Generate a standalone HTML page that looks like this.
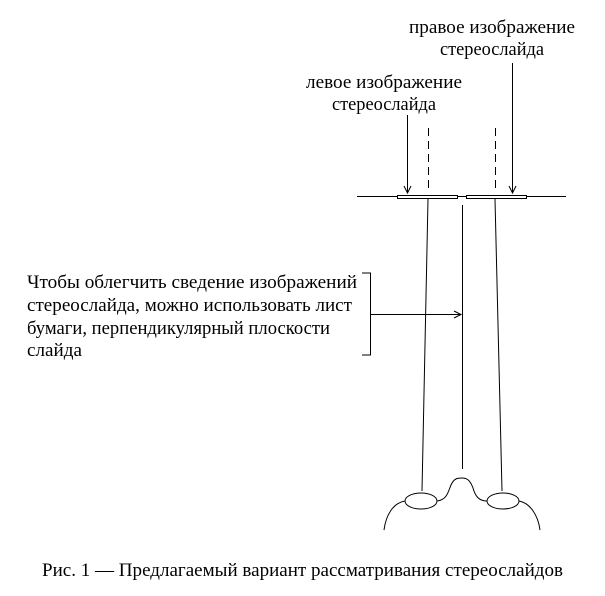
<!DOCTYPE html>
<html><head><meta charset="utf-8"><style>
body{margin:0;width:605px;height:596px;background:#fff;overflow:hidden}
svg{position:absolute;left:0;top:0}
text{font-family:"Liberation Serif","DejaVu Serif",serif;font-size:19px;fill:#000}
</style></head><body>
<svg width="605" height="596" viewBox="0 0 605 596">
<g stroke="#000" stroke-width="1" fill="none">
<line x1="357" y1="196.5" x2="566" y2="196.5"/>
<rect x="397.5" y="195.5" width="60" height="3" fill="#fff"/>
<rect x="466.5" y="195.5" width="60" height="3" fill="#fff"/>
<line x1="407.5" y1="115" x2="407.5" y2="192"/>
<path d="M404 186 L407.5 193 L411 186"/>
<line x1="512.5" y1="63" x2="512.5" y2="192"/>
<path d="M509 186 L512.5 193 L516 186"/>
<line x1="428.5" y1="128" x2="428.5" y2="190" stroke-dasharray="8,5"/>
<line x1="495.5" y1="128" x2="495.5" y2="190" stroke-dasharray="8,5"/>
<line x1="428" y1="199" x2="422" y2="491"/>
<line x1="495" y1="199" x2="502" y2="491"/>
<line x1="462.5" y1="205" x2="462.5" y2="469"/>
<polyline points="362,273 370.5,273 370.5,355 362,355"/>
<line x1="370" y1="314.5" x2="460" y2="314.5"/>
<path d="M454 311 L461 314.5 L454 318"/>
<ellipse cx="421" cy="501" rx="16" ry="8"/>
<ellipse cx="503" cy="501" rx="16" ry="8"/>
<path d="M437 501 C447 500 448 492 451 485 C454 478 458 478 462 478 C467 478 470 480 473 488 C475 495 478 501 487 501"/>
<path d="M405 501 C393 503 386 515 384 530"/>
<path d="M519 501 C530 503 538 515 540 530"/>
</g>
<text x="409" y="33" textLength="166" lengthAdjust="spacingAndGlyphs">правое изображение</text>
<text x="440" y="55" textLength="104" lengthAdjust="spacingAndGlyphs">стереослайда</text>
<text x="306" y="88" textLength="156" lengthAdjust="spacingAndGlyphs">левое изображение</text>
<text x="332" y="110" textLength="104" lengthAdjust="spacingAndGlyphs">стереослайда</text>
<text x="27" y="288" textLength="330" lengthAdjust="spacingAndGlyphs">Чтобы облегчить сведение изображений</text>
<text x="27" y="311" textLength="325" lengthAdjust="spacingAndGlyphs">стереослайда, можно использовать лист</text>
<text x="27" y="334" textLength="303" lengthAdjust="spacingAndGlyphs">бумаги, перпендикулярный плоскости</text>
<text x="27" y="356" textLength="55" lengthAdjust="spacingAndGlyphs">слайда</text>
<text x="42" y="576" textLength="521" lengthAdjust="spacingAndGlyphs">Рис. 1 — Предлагаемый вариант рассматривания стереослайдов</text>
</svg>
</body></html>
